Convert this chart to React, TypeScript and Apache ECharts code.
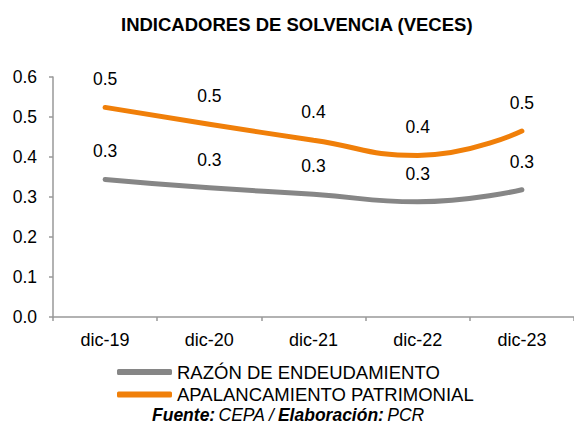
import React, { useEffect, useRef } from "react";
import * as echarts from "echarts";

const categories = ["dic-19", "dic-20", "dic-21", "dic-22", "dic-23"];
const razonEndeudamiento = [0.344, 0.323, 0.307, 0.288, 0.318];
const apalancamientoPatrimonial = [0.524, 0.482, 0.442, 0.404, 0.465];
const yTicks = { min: 0, max: 0.6, interval: 0.1 };

export default function App() {
  const ref = useRef<HTMLDivElement>(null);
  useEffect(() => {
    document.body.style.margin = "0";
    const chart = echarts.init(ref.current!, null, { renderer: "svg" });
    const font = "'Liberation Sans', Arial, sans-serif";
    const label = {
      show: true,
      position: "top",
      distance: 19,
      fontSize: 17.5,
      fontFamily: font,
      color: "#000",
      formatter: (p: any) => Number(p.value).toFixed(1),
    };
    chart.setOption({
      animation: false,
      backgroundColor: "#fff",
      title: {
        text: "INDICADORES DE SOLVENCIA (VECES)",
        left: 116,
        top: 10,
        textStyle: { fontSize: 18.5, fontWeight: "bold", fontFamily: font, color: "#000", lineHeight: 18 },
      },
      grid: { left: 53, right: -3, top: 77, bottom: 109 },
      legend: {
        orient: "vertical",
        left: 112,
        top: 357.5,
        icon: "roundRect",
        itemWidth: 55,
        itemHeight: 6,
        itemGap: 3.6,
        textStyle: { fontSize: 18.5, lineHeight: 18, fontFamily: font, color: "#000" },
        data: ["RAZÓN DE ENDEUDAMIENTO", "APALANCAMIENTO PATRIMONIAL"],
      },
      graphic: [
        {
          type: "text",
          left: 152,
          top: 406,
          style: {
            text: "{b|Fuente:} {n|CEPA /} {b|Elaboración:} {n|PCR}",
            rich: {
              b: { fontSize: 17.5, lineHeight: 17, fontWeight: "bold", fontStyle: "italic", fontFamily: font, fill: "#000" },
              n: { fontSize: 17.5, lineHeight: 17, fontStyle: "italic", fontFamily: font, fill: "#000" },
            },
          },
        },
      ],
      xAxis: {
        type: "category",
        data: categories,
        axisLine: { lineStyle: { color: "#999", width: 1.5 } },
        axisTick: { show: true, length: 4, lineStyle: { color: "#999", width: 1.5 } },
        axisLabel: { fontSize: 18, fontFamily: font, color: "#000", margin: 14 },
      },
      yAxis: {
        type: "value",
        min: yTicks.min,
        max: yTicks.max,
        interval: yTicks.interval,
        axisLine: { show: true, lineStyle: { color: "#999", width: 1.5 } },
        axisTick: { show: true, length: 4, lineStyle: { color: "#999", width: 1.5 } },
        splitLine: { show: false },
        axisLabel: {
          fontSize: 17.5,
          fontFamily: font,
          color: "#000",
          margin: 16,
          formatter: (v: number) => v.toFixed(1),
        },
      },
      series: [
        {
          name: "RAZÓN DE ENDEUDAMIENTO",
          type: "line",
          smooth: true,
          data: razonEndeudamiento,
          symbol: "circle",
          symbolSize: 0.1,
          color: "#868686",
          lineStyle: { color: "#868686", width: 5, cap: "round" },
          label,
        },
        {
          name: "APALANCAMIENTO PATRIMONIAL",
          type: "line",
          smooth: true,
          data: apalancamientoPatrimonial,
          symbol: "circle",
          symbolSize: 0.1,
          color: "#F07F09",
          lineStyle: { color: "#F07F09", width: 5, cap: "round" },
          label,
        },
      ],
    });
    return () => chart.dispose();
  }, []);
  return <div ref={ref} style={{ width: 574, height: 426 }} />;
}
